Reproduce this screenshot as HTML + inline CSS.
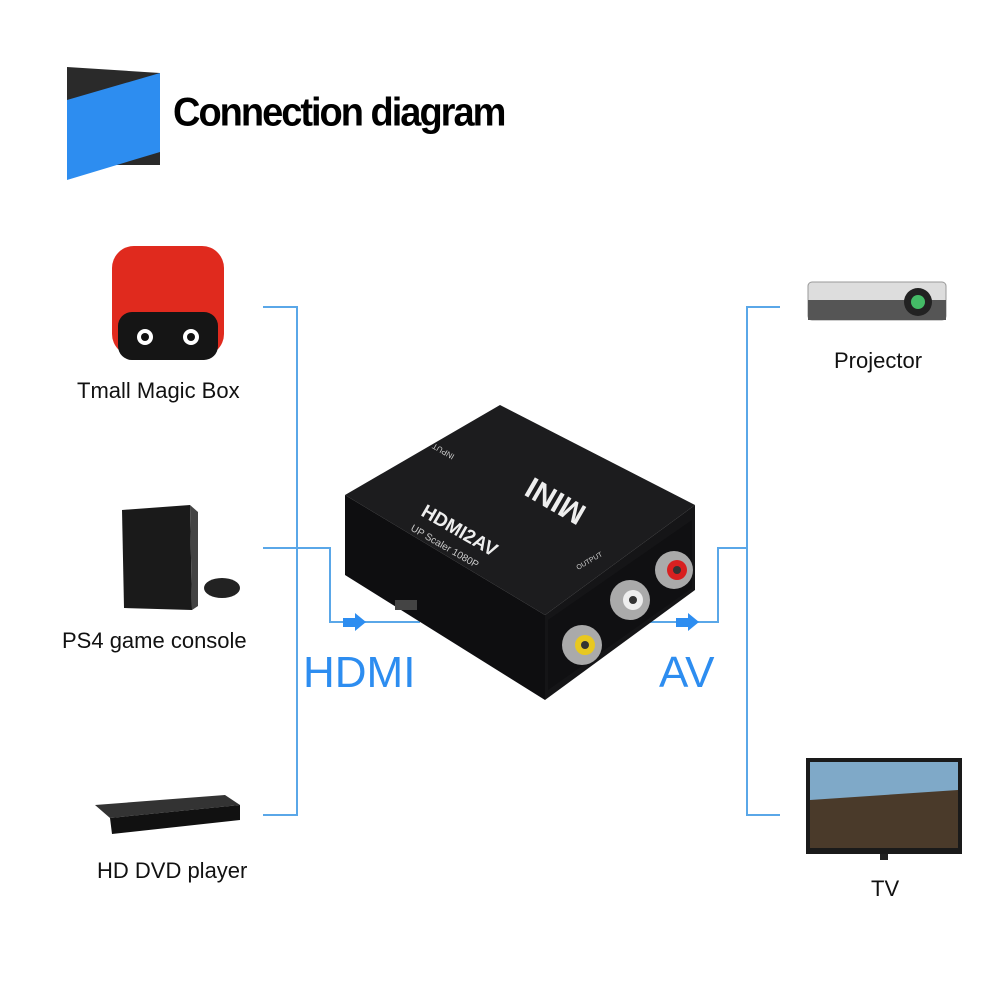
<!DOCTYPE html>
<html><head><meta charset="utf-8"><style>
body{margin:0;width:1002px;height:1002px;background:#fff;position:relative;overflow:hidden;font-family:"Liberation Sans",sans-serif}
.t{position:absolute;white-space:nowrap;color:#111}
</style></head><body>
<svg width="1002" height="1002" style="position:absolute;left:0;top:0">
<polygon points="67,67 160,73 160,165 67,165" fill="#2a2a2a"/>
<polygon points="67,100 160,73 160,152 67,180" fill="#2d8df0"/>
<g stroke="#5aa7e8" stroke-width="2" fill="none">
<polyline points="263,307 297,307 297,815 263,815"/>
<polyline points="263,548 330,548 330,622 420,622"/>
<polyline points="780,307 747,307 747,815 780,815"/>
<polyline points="747,548 718,548 718,622 640,622"/>
</g>
<g fill="#2d8df0">
<rect x="343" y="618" width="12" height="9"/><polygon points="355,613 366,622 355,631"/>
<rect x="676" y="618" width="12" height="9"/><polygon points="688,613 699,622 688,631"/>
</g>
<rect x="112" y="246" width="112" height="110" rx="22" fill="#e02a1e"/>
<rect x="118" y="312" width="100" height="48" rx="14" fill="#151515"/>
<circle cx="145" cy="337" r="8" fill="#fff"/><circle cx="191" cy="337" r="8" fill="#fff"/>
<circle cx="145" cy="337" r="4" fill="#111"/><circle cx="191" cy="337" r="4" fill="#111"/>
<polygon points="122,510 190,505 192,610 124,608" fill="#1a1a1a"/>
<polygon points="190,505 198,512 198,606 192,610" fill="#444"/>
<ellipse cx="222" cy="588" rx="18" ry="10" fill="#222"/>
<polygon points="95,805 225,795 240,805 110,818" fill="#333"/>
<polygon points="110,818 240,805 240,820 112,834" fill="#111"/>
<rect x="808" y="282" width="138" height="38" rx="4" fill="#ddd" stroke="#999"/>
<rect x="808" y="300" width="138" height="20" fill="#555"/>
<circle cx="918" cy="302" r="14" fill="#222"/><circle cx="918" cy="302" r="7" fill="#4b6"/>
<rect x="806" y="758" width="156" height="96" fill="#1a1a1a"/>
<rect x="810" y="762" width="148" height="86" fill="#7fa9c8"/>
<polygon points="810,800 958,790 958,848 810,848" fill="#4a3a2a"/>
<rect x="880" y="854" width="8" height="6" fill="#222"/>
<polygon points="345,495 500,405 695,505 545,615" fill="#1c1c1e"/>
<polygon points="345,495 545,615 545,700 345,575" fill="#0e0e10"/>
<polygon points="545,615 695,505 695,590 545,700" fill="#151517"/>
<polygon points="548,620 692,520 692,588 548,690" fill="#101012"/>
<circle cx="582" cy="645" r="20" fill="#aaa"/><circle cx="585" cy="645" r="10" fill="#e8c820"/><circle cx="585" cy="645" r="4" fill="#333"/>
<circle cx="630" cy="600" r="20" fill="#aaa"/><circle cx="633" cy="600" r="10" fill="#eee"/><circle cx="633" cy="600" r="4" fill="#333"/>
<circle cx="674" cy="570" r="19" fill="#aaa"/><circle cx="677" cy="570" r="10" fill="#d82020"/><circle cx="677" cy="570" r="4" fill="#333"/>
<rect x="395" y="600" width="22" height="10" fill="#444"/>
<text x="0" y="0" fill="#eee" font-family="Liberation Sans" font-weight="bold" font-size="30" transform="translate(588,508) rotate(210)">MINI</text>
<text x="0" y="0" fill="#ccc" font-family="Liberation Sans" font-size="8" transform="translate(455,455) rotate(210)">INPUT</text>
<text x="0" y="0" fill="#eee" font-family="Liberation Sans" font-weight="bold" font-size="19" transform="translate(420,515) rotate(30)">HDMI2AV</text>
<text x="0" y="0" fill="#ccc" font-family="Liberation Sans" font-size="10" transform="translate(410,530) rotate(30)">UP Scaler 1080P</text>
<text x="0" y="0" fill="#ccc" font-family="Liberation Sans" font-size="7" transform="translate(578,570) rotate(-30)">OUTPUT</text>
</svg>
<div class="t" style="left:173px;top:92px;font-size:38px;font-weight:bold;letter-spacing:-2px;transform:scaleY(1.05);color:#000">Connection diagram</div>
<div class="t" style="left:77px;top:378px;font-size:22px">Tmall Magic Box</div>
<div class="t" style="left:62px;top:628px;font-size:22px">PS4 game console</div>
<div class="t" style="left:97px;top:858px;font-size:22px">HD DVD player</div>
<div class="t" style="left:834px;top:348px;font-size:22px">Projector</div>
<div class="t" style="left:871px;top:876px;font-size:22px">TV</div>
<div class="t" style="left:303px;top:648px;font-size:44px;color:#2d8df0">HDMI</div>
<div class="t" style="left:659px;top:648px;font-size:44px;color:#2d8df0">AV</div>
</body></html>
